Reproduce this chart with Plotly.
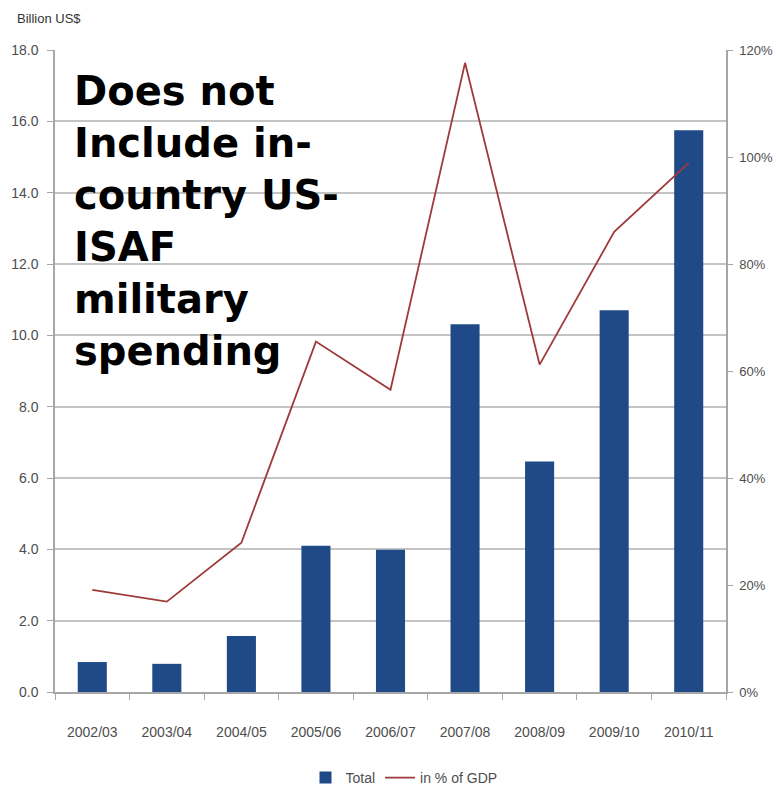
import plotly.graph_objects as go

categories = ["2002/03", "2003/04", "2004/05", "2005/06", "2006/07",
              "2007/08", "2008/09", "2009/10", "2010/11"]
total_bn = [0.84, 0.79, 1.57, 4.10, 3.99, 10.31, 6.46, 10.70, 15.75]
pct_gdp = [19.1, 16.9, 27.9, 65.5, 56.5, 117.6, 61.2, 86.0, 98.9]
left_ticks = [0, 2, 4, 6, 8, 10, 12, 14, 16, 18]
right_ticks = [0, 20, 40, 60, 80, 100, 120]
right_labels = [f"{v}%" for v in right_ticks]

W, H = 776, 791
ML, MR, MT, MB = 55, 50, 50, 99

def cx(x):
    return x / W

def cy(y):
    return 1 - y / H

FONT = "Liberation Sans, Arial, sans-serif"
tick_font = dict(family=FONT, size=14, color="#4d4d4d")
axis_col = "#a6a6a6"

fig = go.Figure()
fig.add_trace(go.Bar(
    x=categories, y=total_bn, name="Total",
    marker=dict(color="#1f4a87", line=dict(width=0)),
    yaxis="y",
))
fig.add_trace(go.Scatter(
    x=categories, y=pct_gdp, name="in % of GDP", mode="lines",
    line=dict(color="#9e3a3a", width=1.8),
    yaxis="y2",
))

fig.update_layout(
    width=W, height=H,
    margin=dict(l=ML, r=MR, t=MT, b=MB, pad=0, autoexpand=False),
    paper_bgcolor="white", plot_bgcolor="white",
    bargap=0.61,
    showlegend=True,
    legend=dict(orientation="h", xref="container", yref="container",
                x=cx(404), y=cy(778), xanchor="center", yanchor="middle",
                font=dict(family=FONT, size=14, color="#4d4d4d"),
                tracegroupgap=0),
    xaxis=dict(
        type="category", showgrid=False, showline=True, linecolor=axis_col, linewidth=1.5,
        ticks="outside", tickson="boundaries", ticklen=6, tickcolor=axis_col, tickwidth=1,
        tickfont=tick_font, ticklabelstandoff=26, automargin=False,
    ),
    yaxis=dict(
        range=[0, 18], tickvals=left_ticks, tickformat=".1f",
        showgrid=True, gridcolor="#c4c4c4", gridwidth=1.5,
        showline=True, linecolor=axis_col, linewidth=1.5,
        ticks="outside", ticklen=6, tickcolor=axis_col,
        tickfont=tick_font, zeroline=False, ticklabelstandoff=6, automargin=False,
    ),
    yaxis2=dict(
        range=[0, 120], tickvals=right_ticks, ticktext=right_labels,
        overlaying="y", side="right", showgrid=False,
        showline=True, linecolor=axis_col, linewidth=1.5,
        ticks="outside", ticklen=5, tickcolor=axis_col,
        tickfont=dict(family=FONT, size=13, color="#4d4d4d"),
        zeroline=False, ticklabelstandoff=4, automargin=False,
    ),
)

fig.add_annotation(
    xref="paper", yref="paper", x=(15 - ML) / (W - ML - MR), y=(H - MB - 18) / (H - MT - MB),
    text="Billion US$", showarrow=False, xanchor="left", yanchor="middle",
    font=dict(family=FONT, size=13, color="#333333"),
)
fig.add_annotation(
    xref="paper", yref="paper", x=(72 - ML) / (W - ML - MR), y=(H - MB - 66) / (H - MT - MB),
    text="Does not<br>Include in-<br>country US-<br>ISAF<br>military<br>spending",
    showarrow=False, xanchor="left", yanchor="top", align="left",
    font=dict(family="DejaVu Sans", size=40, color="black", weight="bold"),
)

fig.write_html("out.html", config={"displayModeBar": False},
               post_script="document.body.style.margin='0';document.body.style.overflow='hidden';")
